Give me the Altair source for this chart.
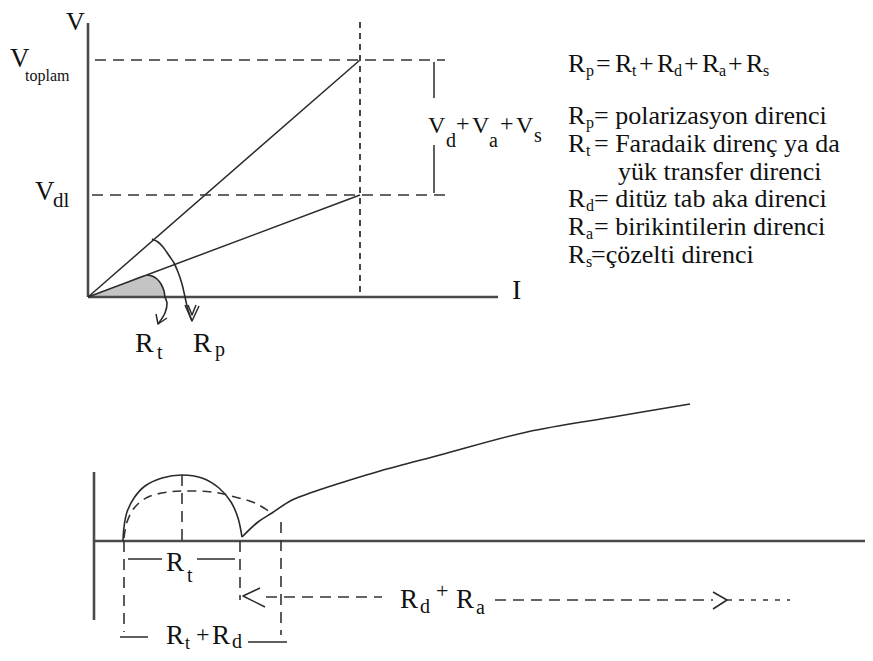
import altair as alt
import pandas as pd

# ---------- diagram geometry, in reference-picture coordinates ----------
# upper V-I diagram
V_AXIS = [(88, 23), (88, 297)]
I_AXIS = [(88, 297), (498, 297)]
LINE_TOTAL = [(88, 297), (360, 60)]
LINE_DL = [(88, 297), (360, 195)]
BRACKET_TOP = [(434, 62), (434, 98)]
BRACKET_BOT = [(434, 145), (434, 193)]
VTOP_DASH = [(95, 60), (445, 60)]
VDL_DASH = [(92, 195), (450, 195)]
I_DOTTED = [(360, 22), (360, 297)]
RP_ARC = [(152, 239), (158, 242), (163, 247), (170, 257), (174, 263), (178, 272),
          (182, 284), (185, 297), (188, 310), (192, 321)]
RP_HEAD_A = [(185, 305), (192, 321), (199, 306)]
RP_HEAD_B = [(188, 305), (192, 315), (196, 305)]
RT_ARC = [(147, 275), (152, 276), (157, 279), (161, 284), (164, 291), (165, 297),
          (167, 303), (165, 313), (158, 324)]
RT_HEAD = [(156, 314), (158, 324), (167, 318)]
WEDGE_X = [88, 100, 120, 147, 152, 157, 161, 164, 165]
WEDGE_Y = [297, 292.5, 285, 275, 276, 279, 284, 291, 297]

# lower impedance diagram
B_VAXIS = [(94, 472), (94, 620)]
B_HAXIS = [(94, 541), (870, 541)]
SEMI = [(123, 541), (124, 527), (127, 512), (134, 498), (145, 486), (162, 478), (182, 475),
        (202, 478), (219, 488), (231, 502), (238, 518), (242, 537)]
SEMI_DASH = [(124, 538), (127, 522), (135, 507), (148, 497), (168, 492), (185, 491),
             (212, 492), (235, 497), (255, 503), (270, 512)]
TAIL = [(242, 537), (258, 522), (272, 513), (292, 500), (313, 492), (350, 480),
        (380, 471), (440, 455), (527, 432), (613, 417), (690, 404)]
TOP_VERT = [(182, 475), (182, 541)]
LEFT_VERT = [(124, 541), (124, 632)]
MID_VERT = [(240, 541), (240, 600)]
RIGHT_VERT = [(281, 522), (281, 635)]
RT_BAR_L = [(128, 559), (162, 559)]
RT_BAR_R = [(197, 559), (235, 559)]
RTD_BAR_L = [(120, 637), (148, 637)]
RTD_BAR_R = [(248, 642), (287, 642)]
ARROW_L = [(260, 588), (243, 596), (265, 607)]
ARROW_R = [(713, 592), (727, 600), (713, 609)]
RDRA_DASH_L = [(266, 597), (382, 597)]
RDRA_DASH_R = [(495, 600), (713, 600)]
RDRA_TAIL = [(727, 600), (790, 600)]

# ---------- labels ----------
LBL_TEXT = ["V", "V", "toplam", "V", "dl", "I",
            "V", "d", "+", "V", "a", "+", "V", "s",
            "R", "t", "R", "p",
            "R", "t",
            "R", "t", "+", "R", "d",
            "R", "d", "+", "R", "a"]
LBL_X = [66, 10, 25, 35, 53, 512,
         428, 446, 456, 472, 489, 500, 516, 534,
         135, 157, 193, 215,
         166, 187,
         166, 185, 196, 212, 232,
         400, 420, 436, 456, 476]
LBL_Y = [30, 67, 81, 200, 207, 299,
         133, 147, 131, 133, 147, 131, 133, 142,
         352, 359, 352, 356,
         571, 582,
         644, 649, 642, 644, 648,
         608, 613, 598, 608, 614]
LBL_SIZE = [26, 27, 16, 27, 21, 28,
            24, 20, 24, 24, 20, 24, 24, 20,
            28, 20, 28, 20,
            27, 20,
            27, 18, 24, 27, 20,
            27, 20, 22, 27, 20]

LEG_TEXT = ["R", "p", "=", "R", "t", "+", "R", "d", "+", "R", "a", "+", "R", "s",
            "R", "p", "= polarizasyon direnci",
            "R", "t", "= Faradaik direnç ya da",
            "yük  transfer direnci",
            "R", "d", "= ditüz tab aka direnci",
            "R", "a", "= birikintilerin direnci",
            "R", "s", " =çözelti direnci"]
LEG_X = [568, 586, 596, 615, 632, 639, 657, 674, 684, 702, 719, 728, 746, 763,
         568, 586, 594,
         568, 586, 594,
         618,
         568, 586, 594,
         568, 586, 594,
         568, 586, 591]
LEG_Y = [72, 76, 72, 72, 76, 72, 72, 76, 72, 72, 76, 72, 72, 76,
         124, 128, 124,
         152, 156, 152,
         180,
         207, 211, 207,
         235, 239, 235,
         263, 267, 263]
LEG_SIZE = [26, 16, 26, 26, 16, 26, 26, 16, 26, 26, 16, 26, 26, 16,
            26, 16, 26,
            26, 16, 26,
            26,
            26, 16, 26,
            26, 16, 26,
            26, 16, 26]

X = alt.X("x:Q", scale=alt.Scale(domain=[8, 865], nice=False, zero=False), axis=None)
Y = alt.Y("y:Q", scale=alt.Scale(domain=[8, 653], nice=False, zero=False, reverse=True), axis=None)


def lines_df(named):
    rows = []
    for name, pts in named.items():
        for i, (x, y) in enumerate(pts):
            rows.append({"id": name, "o": i, "x": x, "y": y})
    return pd.DataFrame(rows)


def line_layer(named, width, color, dash=None, interp=None):
    kw = dict(strokeWidth=width, color=color, strokeCap="butt", strokeJoin="round")
    if dash:
        kw["strokeDash"] = dash
    if interp:
        kw["interpolate"] = interp
    return alt.Chart(lines_df(named)).mark_line(**kw).encode(
        x=X, y=Y, detail="id:N", order="o:Q")


wedge = alt.Chart(pd.DataFrame({"x": WEDGE_X, "y": WEDGE_Y, "b": [297] * len(WEDGE_X)})).mark_area(
    color="#c4c4c4", interpolate="monotone").encode(x=X, y=Y, y2="b:Q")

thick = line_layer({"va": V_AXIS, "ia": I_AXIS, "bva": B_VAXIS, "bha": B_HAXIS}, 2.6, "#4a4a4a")
thin = line_layer({
    "lt": LINE_TOTAL, "ld": LINE_DL, "bt": BRACKET_TOP, "bb": BRACKET_BOT,
    "rpa": RP_HEAD_A, "rpb": RP_HEAD_B, "rth": RT_HEAD,
    "rbl": RT_BAR_L, "rbr": RT_BAR_R,
    "rdl": RTD_BAR_L, "rdr": RTD_BAR_R, "al": ARROW_L, "ar": ARROW_R,
}, 1.5, "#2a2a2a")
curves = line_layer({"rp": RP_ARC, "rt": RT_ARC, "semi": SEMI, "tail": TAIL},
                    1.6, "#2a2a2a", interp="catmull-rom")
dashed = line_layer({
    "vt": VTOP_DASH, "vd": VDL_DASH, "tv": TOP_VERT,
    "lv": LEFT_VERT, "mv": MID_VERT, "rv": RIGHT_VERT,
    "dl": RDRA_DASH_L, "dr": RDRA_DASH_R,
}, 1.6, "#333333", [11, 7])
dashed_curve = line_layer({"sd": SEMI_DASH}, 1.6, "#333333", [9, 6], interp="catmull-rom")
dotted = line_layer({"id": I_DOTTED}, 1.8, "#333333", [6, 5])
tail_dash = line_layer({"rt": RDRA_TAIL}, 1.4, "#333333", [5, 7])

labels = alt.Chart(pd.DataFrame({"x": LBL_X, "y": LBL_Y, "t": LBL_TEXT, "s": LBL_SIZE})).mark_text(
    font="Liberation Serif", align="left", baseline="alphabetic", color="#111111").encode(
    x=X, y=Y, text="t:N", size=alt.Size("s:Q", scale=None))

legend = alt.Chart(pd.DataFrame({"x": LEG_X, "y": LEG_Y, "t": LEG_TEXT, "s": LEG_SIZE})).mark_text(
    font="Liberation Serif", align="left", baseline="alphabetic", color="#111111").encode(
    x=X, y=Y, text="t:N", size=alt.Size("s:Q", scale=None))

chart = alt.layer(wedge, thick, thin, curves, dashed, dashed_curve, dotted, tail_dash,
                  labels, legend).properties(
    width=857, height=645, padding=0, autosize=alt.AutoSizeParams(type="none"),
    background="white").configure_view(strokeWidth=0)

chart.save("out.html", embed_options={"renderer": "svg", "actions": False})
